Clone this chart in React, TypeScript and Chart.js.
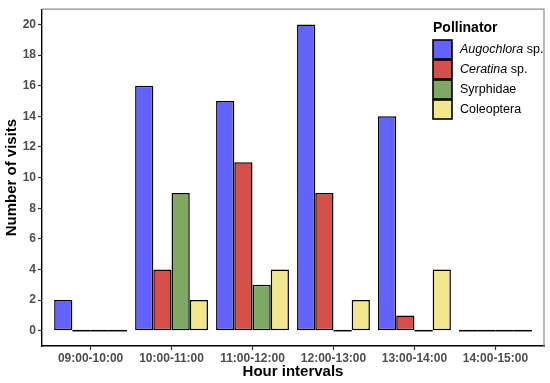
import React, { useEffect, useRef } from "react";
import { Chart, registerables } from "chart.js";

Chart.register(...registerables);

const categories = ["09:00-10:00", "10:00-11:00", "11:00-12:00", "12:00-13:00", "13:00-14:00", "14:00-15:00"];
const augochlora = [2, 16, 15, 20, 14, 0];
const ceratina = [0, 4, 11, 9, 1, 0];
const syrphidae = [0, 9, 3, 0, 0, 0];
const coleoptera = [0, 2, 4, 2, 4, 0];
const yTicks = [0, 2, 4, 6, 8, 10, 12, 14, 16, 18, 20];

const seriesNames = ["Augochlora", "Ceratina", "Syrphidae", "Coleoptera"];
const seriesItalic = [true, true, false, false];
const seriesSuffix = [" sp.", " sp.", "", ""];
const seriesColors = ["#6262FE", "#D5504A", "#7FA865", "#F2E68E"];

const FONT = "'Liberation Sans', Arial, Helvetica, sans-serif";

const extrasPlugin = {
  id: "extras",
  afterDatasetsDraw(chart: any) {
    const ctx = chart.ctx;
    const y0 = chart.scales.y.getPixelForValue(0);
    ctx.save();
    ctx.strokeStyle = "#000";
    ctx.lineWidth = 1.5;
    chart.data.datasets.forEach((ds: any, di: number) => {
      const meta = chart.getDatasetMeta(di);
      meta.data.forEach((el: any, i: number) => {
        if (ds.data[i].y === 0) {
          ctx.beginPath();
          ctx.moveTo(el.x - el.width / 2, y0);
          ctx.lineTo(el.x + el.width / 2, y0);
          ctx.stroke();
        }
      });
    });
    ctx.restore();
  },
  afterDraw(chart: any) {
    const ctx = chart.ctx;
    const a = chart.chartArea;
    ctx.save();
    ctx.strokeStyle = "#8c8c8c";
    ctx.lineWidth = 1.2;
    ctx.beginPath();
    ctx.moveTo(a.left, a.top);
    ctx.lineTo(a.right, a.top);
    ctx.lineTo(a.right, a.bottom);
    ctx.stroke();
    const lx = 433;
    ctx.fillStyle = "#000";
    ctx.textBaseline = "middle";
    ctx.font = `bold 14px ${FONT}`;
    ctx.fillText("Pollinator", lx, 28);
    seriesNames.forEach((name, i) => {
      const by = 40 + i * 20;
      ctx.fillStyle = seriesColors[i];
      ctx.fillRect(lx, by, 19, 19);
      ctx.strokeStyle = "#000";
      ctx.lineWidth = 1.6;
      ctx.strokeRect(lx, by, 19, 19);
      const ty = by + 10;
      let tx = 460;
      ctx.fillStyle = "#000";
      ctx.font = `${seriesItalic[i] ? "italic " : ""}12.5px ${FONT}`;
      ctx.fillText(name, tx, ty);
      tx += ctx.measureText(name).width;
      if (seriesSuffix[i]) {
        ctx.font = `12.5px ${FONT}`;
        ctx.fillText(seriesSuffix[i], tx, ty);
      }
    });
    ctx.restore();
  },
};

export default function App() {
  const ref = useRef<HTMLCanvasElement>(null);
  useEffect(() => {
    document.body.style.margin = "0";
    const all = [augochlora, ceratina, syrphidae, coleoptera];
    const chart = new Chart(ref.current!, {
      type: "bar",
      data: {
        datasets: all.map((vals, si) => ({
          label: seriesNames[si],
          data: vals.map((v, i) => ({ x: i, y: v })),
          backgroundColor: seriesColors[si],
          borderColor: "#000",
          borderWidth: 1.5,
          borderSkipped: false,
          categoryPercentage: 0.9,
          barPercentage: 1.0,
        })),
      },
      options: {
        responsive: false,
        animation: false,
        layout: { padding: { top: 4, right: 6, left: 0, bottom: 0 } },
        plugins: { legend: { display: false }, tooltip: { enabled: false } },
        scales: {
          x: {
            type: "linear",
            offset: false,
            min: -0.6,
            max: 5.6,
            afterBuildTicks: (s: any) => {
              s.ticks = categories.map((_, i) => ({ value: i }));
            },
            afterFit: (s: any) => {
              s.height = 37;
            },
            ticks: {
              autoSkip: false,
              maxRotation: 0,
              padding: 1,
              color: "#4d4d4d",
              font: { family: FONT, size: 12, weight: "bold" },
              callback: (v: any) => categories[v] ?? "",
            },
            grid: { offset: false, drawOnChartArea: false, tickLength: 4, tickColor: "#333", tickWidth: 1.2 },
            border: { color: "#000", width: 1.4 },
            title: {
              display: true,
              text: "Hour intervals",
              color: "#000",
              font: { family: FONT, size: 15, weight: "bold" },
              padding: { top: 0, bottom: 2 },
            },
          },
          y: {
            min: -1,
            max: 21,
            afterBuildTicks: (s: any) => {
              s.ticks = yTicks.map((v) => ({ value: v }));
            },
            afterFit: (s: any) => {
              s.width = 42;
            },
            ticks: {
              padding: 2,
              color: "#4d4d4d",
              font: { family: FONT, size: 12, weight: "bold" },
            },
            grid: { drawOnChartArea: false, tickLength: 4, tickColor: "#333", tickWidth: 1.2 },
            border: { color: "#000", width: 1.4 },
            title: {
              display: true,
              text: "Number of visits",
              color: "#000",
              font: { family: FONT, size: 15, weight: "bold" },
              padding: { top: 3, bottom: 0 },
            },
          },
        },
      },
      plugins: [extrasPlugin],
    } as any);
    return () => chart.destroy();
  }, []);
  return (
    <div style={{ width: 550, height: 383 }}>
      <canvas ref={ref} width={550} height={383} />
    </div>
  );
}
